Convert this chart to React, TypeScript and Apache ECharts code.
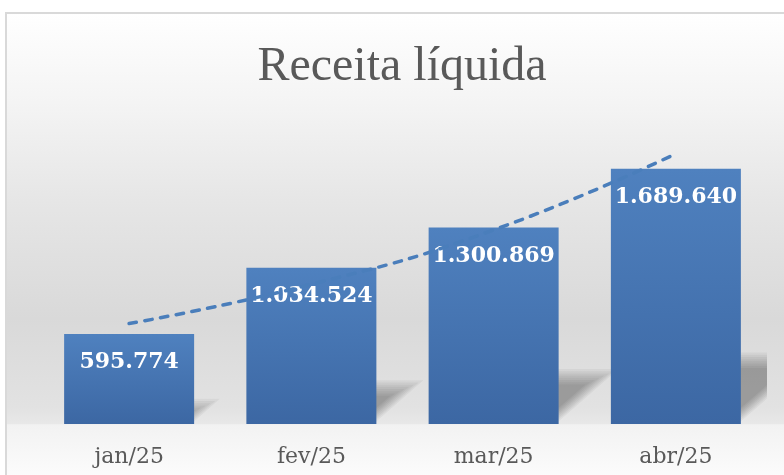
import React, { useEffect, useRef } from "react";
import * as echarts from "echarts";

const categories = ["jan/25", "fev/25", "mar/25", "abr/25"];
const receita = [595774, 1034524, 1300869, 1689640];
const tendencia = [665000, 925000, 1285000, 1790000];
const titulo = "Receita líquida";

const fmt = (v: number) => String(Math.round(v)).replace(/\B(?=(\d{3})+(?!\d))/g, ".");

export default function App() {
  const ref = useRef<HTMLDivElement>(null);
  useEffect(() => {
    if (!ref.current) return;
    const chart = echarts.init(ref.current, null, { renderer: "svg" });
    const option: any = {
      animation: false,
      graphic: [
        {
          type: "rect",
          z: -10,
          silent: true,
          shape: { x: 6, y: 13, width: 800, height: 470 },
          style: {
            fill: new echarts.graphic.LinearGradient(0, 0, 0, 1, [
              { offset: 0, color: "#ffffff" },
              { offset: 0.19, color: "#f4f4f4" },
              { offset: 0.4, color: "#e6e6e6" },
              { offset: 0.65, color: "#d9d9d9" },
              { offset: 0.84, color: "#e2e2e2" },
              { offset: 0.874, color: "#e8e8e8" },
              { offset: 0.876, color: "#f2f2f2" },
              { offset: 1, color: "#fdfdfd" },
            ]),
            stroke: "#d9d9d9",
            lineWidth: 2,
          },
        },
        {
          type: "text",
          z: 10,
          silent: true,
          x: 402,
          y: 63,
          style: {
            text: titulo,
            fill: "#595959",
            font: "normal 48px 'Liberation Serif'",
            textAlign: "center",
            textVerticalAlign: "middle",
          },
        },
      ],
      grid: { left: 38, right: 17, top: 122, bottom: 51, containLabel: false },
      xAxis: {
        type: "category",
        data: categories,
        axisLine: { show: false },
        axisTick: { show: false },
        axisLabel: {
          color: "#595959",
          fontFamily: "DejaVu Serif",
          fontSize: 22,
          margin: 20,
        },
      },
      yAxis: {
        type: "value",
        min: 0,
        max: 2000000,
        show: false,
        splitLine: { show: false },
      },
      series: [
        {
          type: "custom",
          clip: true,
          z: 1,
          silent: true,
          data: receita.map((v, i) => [i, v]),
          encode: { x: 0, y: 1 },
          renderItem: (params: any, api: any) => {
            const idx = api.value(0);
            const v = api.value(1);
            const base = api.coord([idx, 0]);
            const top = api.coord([idx, v]);
            const h = base[1] - top[1];
            const hw = 62;
            const sx = 0.32 * h;
            const sy = 0.28 * h;
            const children: any[] = [];
            const layers = 8;
            for (let k = 0; k < layers; k++) {
              const d = k * 2.2;
              const by = base[1] + 4 - d * 0.6;
              const ty = base[1] - sy + d;
              const f = (by - ty) / (sy + 4);
              const offB = 0;
              const offT = sx * ((base[1] - ty) / sy);
              children.push({
                type: "polygon",
                shape: {
                  points: [
                    [base[0] - hw + d + offB, by],
                    [base[0] + hw - d + offB + (base[1] - by) * (sx / sy), by],
                    [base[0] + hw - d + offT, ty],
                    [base[0] - hw + d + offT, ty],
                  ],
                },
                style: { fill: "rgba(0,0,0," + (f > 0 ? 0.045 : 0) + ")" },
              });
            }
            return { type: "group", children };
          },
        },
        {
          type: "bar",
          z: 2,
          data: receita,
          barWidth: 130,
          itemStyle: {
            color: new echarts.graphic.LinearGradient(0, 0, 0, 1, [
              { offset: 0, color: "#4f81bf" },
              { offset: 1, color: "#3c67a3" },
            ]),
          },
          label: {
            show: true,
            position: "insideTop",
            distance: 15,
            color: "#ffffff",
            fontFamily: "DejaVu Serif",
            fontWeight: "bold",
            fontSize: 22,
            formatter: (p: any) => fmt(p.value),
          },
        },
        {
          type: "line",
          z: 5,
          data: tendencia,
          smooth: true,
          symbol: "none",
          silent: true,
          lineStyle: { color: "#4a7ebb", width: 3.5, type: [7.5, 8.5], cap: "round" },
        },
      ],
    };
    chart.setOption(option);
    return () => chart.dispose();
  }, []);
  return (
    <div
      ref={ref}
      style={{ position: "fixed", left: 0, top: 0, width: 784, height: 475 }}
    />
  );
}
